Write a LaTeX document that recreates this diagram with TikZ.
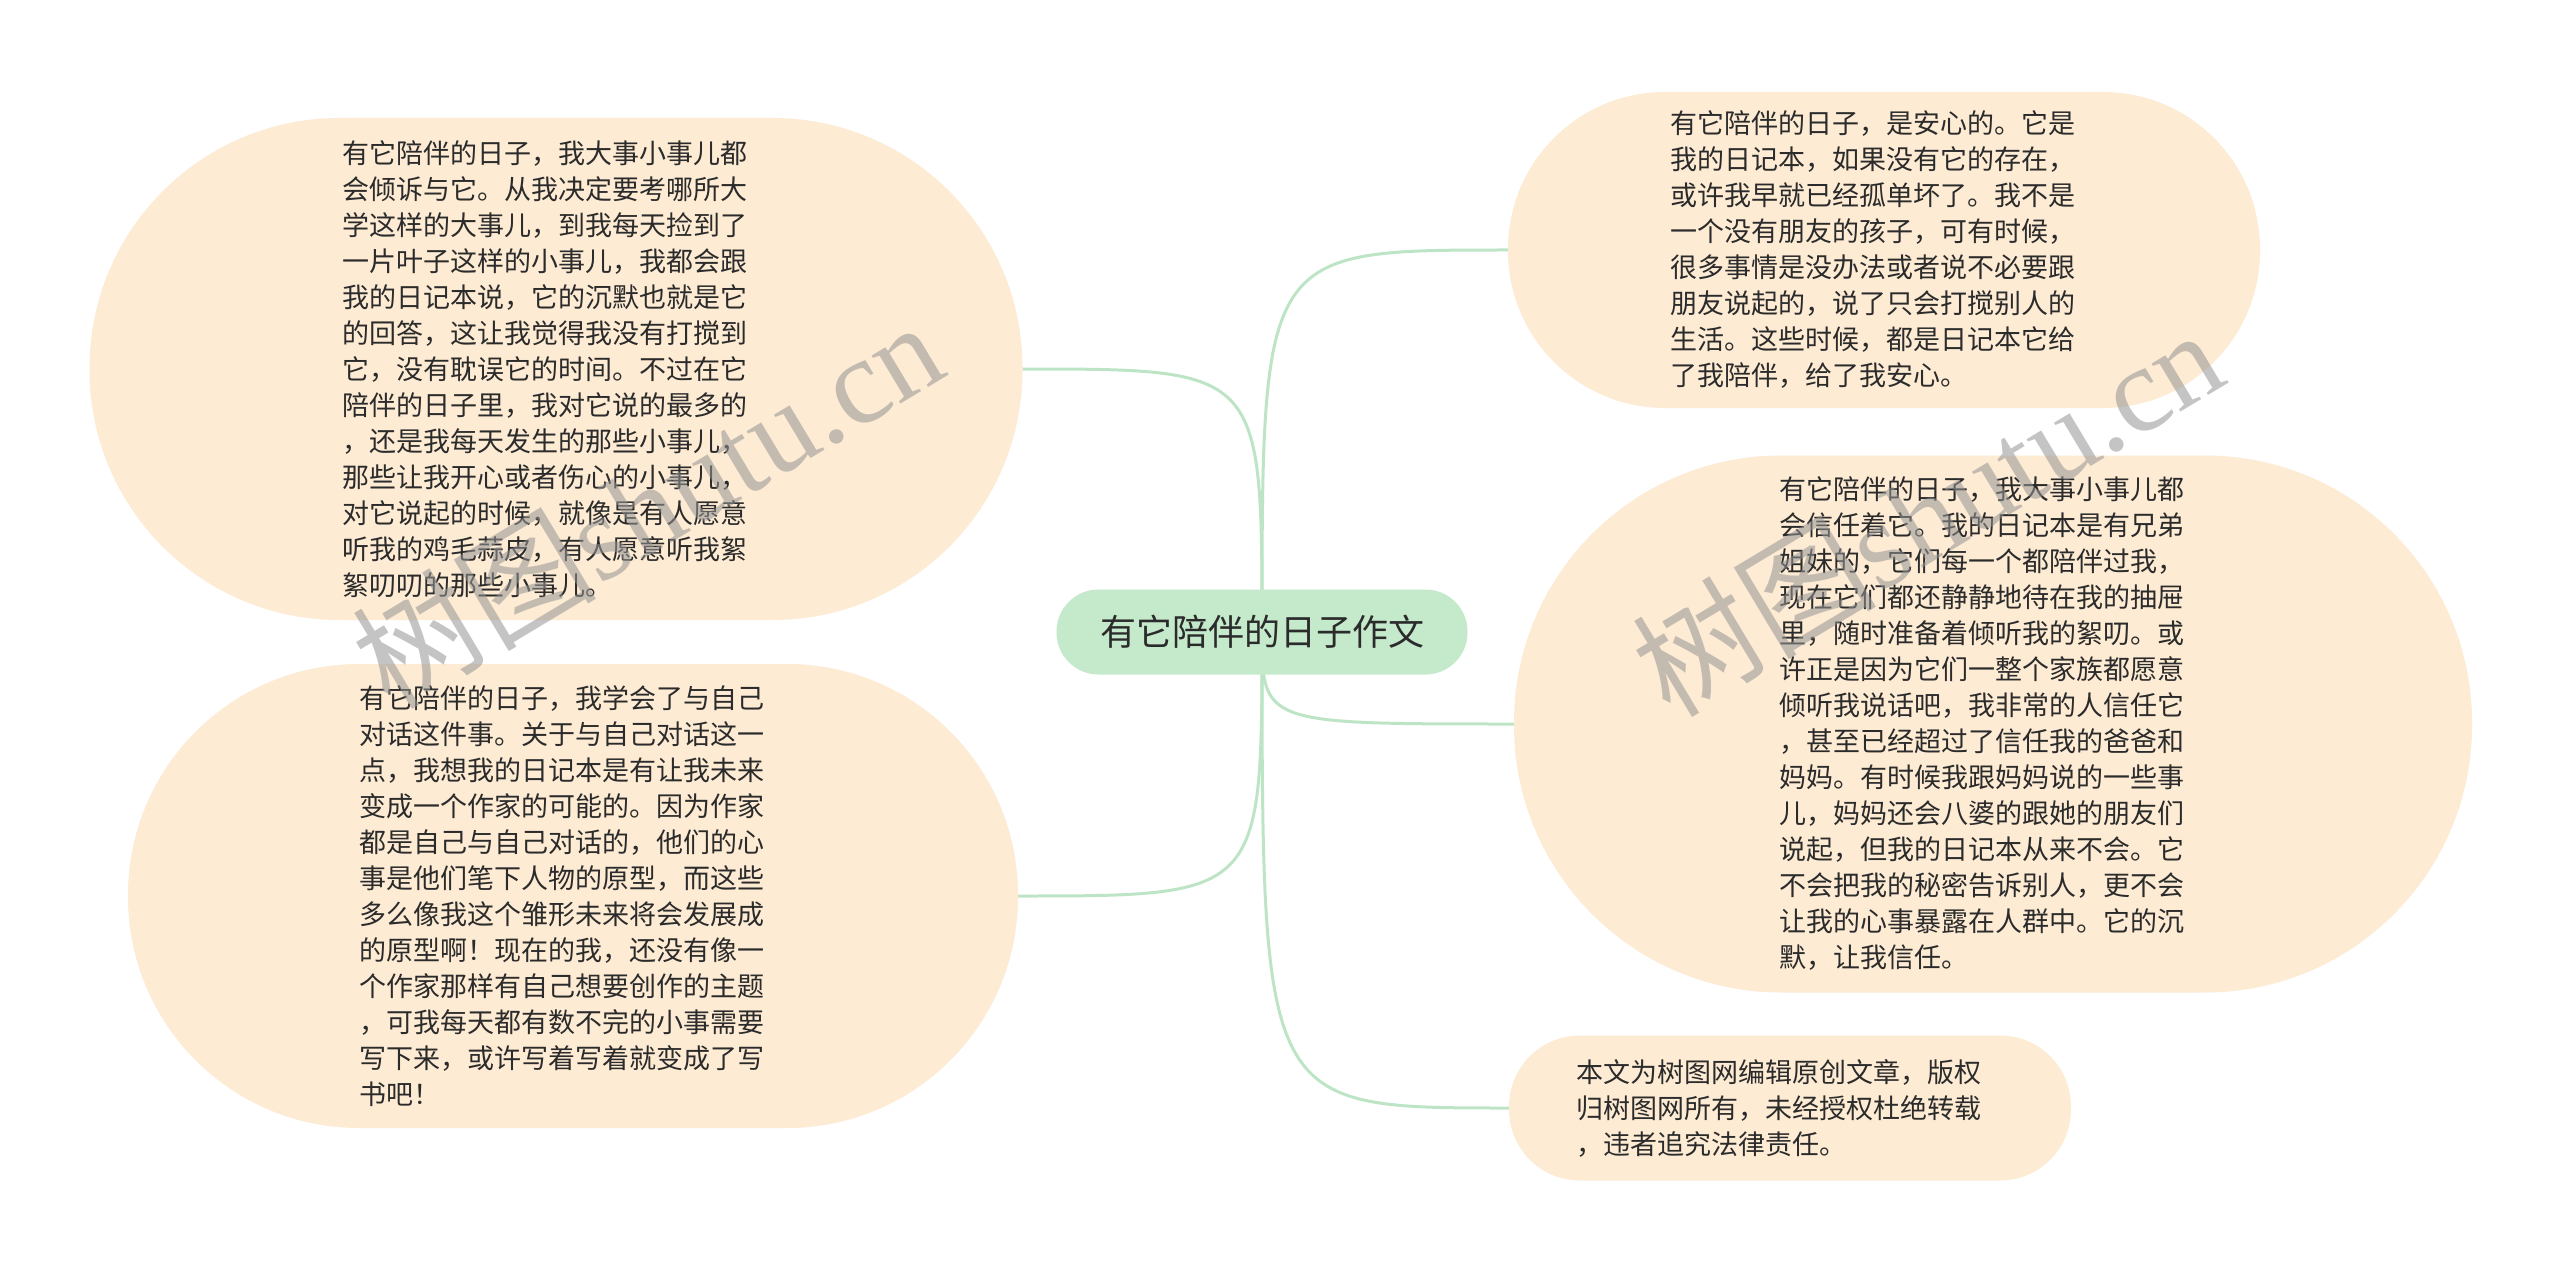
\documentclass[tikz,border=0pt]{standalone}
\usepackage{fontspec}
\newfontfamily\cjk{Noto Sans CJK SC}
\newfontfamily\wmlatin{Liberation Serif}
\usetikzlibrary{backgrounds}
\definecolor{leafc}{HTML}{FDEBD4}
\definecolor{rootc}{HTML}{C5EACB}
\definecolor{linkc}{HTML}{BDE5C5}
\definecolor{txtc}{HTML}{2B2B2B}
\begin{document}
\begin{tikzpicture}[x=1pt,y=-1pt,
  leaf/.style={fill=leafc, inner sep=0pt, text width=427pt, align=left, text=txtc,
    font=\cjk\fontsize{27pt}{36pt}\selectfont},
  rootnode/.style={fill=rootc, rounded corners=42pt, minimum width=411pt, minimum height=85pt,
    inner sep=0pt, text=txtc, font=\cjk\fontsize{36pt}{44pt}\selectfont},
  link/.style={draw=linkc, line width=3pt},
  wm/.style={text=black!42, text opacity=0.55, rotate=31, inner sep=0pt,
    font=\fontsize{122pt}{130pt}\selectfont}]
\useasboundingbox (0,0) rectangle (2560,1265);

\node[rootnode] (root) at (1262,632) {有它陪伴的日子作文};

\node[leaf, minimum width=933pt, minimum height=502pt, rounded corners=250pt] (lt) at (556,369) {%
有它陪伴的日子，我大事小事儿都\\
会倾诉与它。从我决定要考哪所大\\
学这样的大事儿，到我每天捡到了\\
一片叶子这样的小事儿，我都会跟\\
我的日记本说，它的沉默也就是它\\
的回答，这让我觉得我没有打搅到\\
它，没有耽误它的时间。不过在它\\
陪伴的日子里，我对它说的最多的\\
，还是我每天发生的那些小事儿，\\
那些让我开心或者伤心的小事儿，\\
对它说起的时候，就像是有人愿意\\
听我的鸡毛蒜皮，有人愿意听我絮\\
絮叨叨的那些小事儿。};

\node[leaf, minimum width=890pt, minimum height=464pt, rounded corners=231pt] (lb) at (573,896) {%
有它陪伴的日子，我学会了与自己\\
对话这件事。关于与自己对话这一\\
点，我想我的日记本是有让我未来\\
变成一个作家的可能的。因为作家\\
都是自己与自己对话的，他们的心\\
事是他们笔下人物的原型，而这些\\
多么像我这个雏形未来将会发展成\\
的原型啊！现在的我，还没有像一\\
个作家那样有自己想要创作的主题\\
，可我每天都有数不完的小事需要\\
写下来，或许写着写着就变成了写\\
书吧！};

\node[leaf, minimum width=752pt, minimum height=316pt, rounded corners=157pt] (rt) at (1884,250) {%
有它陪伴的日子，是安心的。它是\\
我的日记本，如果没有它的存在，\\
或许我早就已经孤单坏了。我不是\\
一个没有朋友的孩子，可有时候，\\
很多事情是没办法或者说不必要跟\\
朋友说起的，说了只会打搅别人的\\
生活。这些时候，都是日记本它给\\
了我陪伴，给了我安心。};

\node[leaf, minimum width=958pt, minimum height=537pt, rounded corners=267pt] (rm) at (1993,724) {%
有它陪伴的日子，我大事小事儿都\\
会信任着它。我的日记本是有兄弟\\
姐妹的，它们每一个都陪伴过我，\\
现在它们都还静静地待在我的抽屉\\
里，随时准备着倾听我的絮叨。或\\
许正是因为它们一整个家族都愿意\\
倾听我说话吧，我非常的人信任它\\
，甚至已经超过了信任我的爸爸和\\
妈妈。有时候我跟妈妈说的一些事\\
儿，妈妈还会八婆的跟她的朋友们\\
说起，但我的日记本从来不会。它\\
不会把我的秘密告诉别人，更不会\\
让我的心事暴露在人群中。它的沉\\
默，让我信任。};

\node[leaf, minimum width=562pt, minimum height=145pt, rounded corners=71pt] (rb) at (1790,1108) {%
本文为树图网编辑原创文章，版权\\
归树图网所有，未经授权杜绝转载\\
，违者追究法律责任。};

\begin{scope}[on background layer]
  \fill[white] (0,0) rectangle (2560,1265);
  \draw[link] (root.center) .. controls (root.center |- lt.east) .. (lt.east);
  \draw[link] (root.center) .. controls (root.center |- lb.east) .. (lb.east);
  \draw[link] (root.center) .. controls (root.center |- rt.west) .. (rt.west);
  \draw[link] (root.center) .. controls (root.center |- rm.west) .. (rm.west);
  \draw[link] (root.center) .. controls (root.center |- rb.west) .. (rb.west);
\end{scope}

\node[wm] (wm1) at (647,503) {{\cjk 树图}{\wmlatin shutu.cn}};
\node[wm] (wm2) at (1927,511) {{\cjk 树图}{\wmlatin shutu.cn}};
\end{tikzpicture}
\end{document}
